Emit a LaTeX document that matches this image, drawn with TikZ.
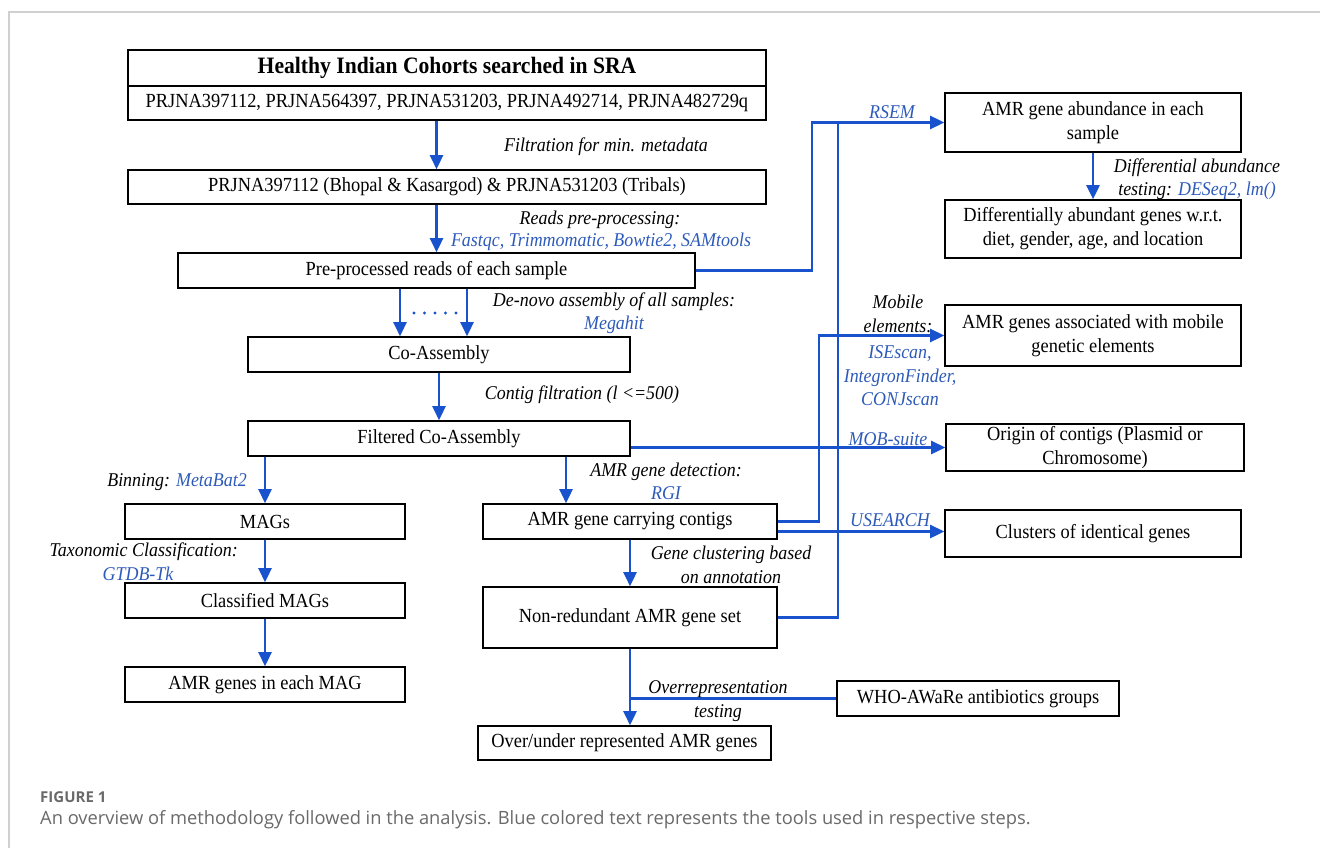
\documentclass[tikz,border=0pt]{standalone}
\usepackage{fontspec}
\setmainfont{Liberation Serif}[FakeStretch=0.92]
\newfontfamily\capfont{Open Sans}
\usetikzlibrary{arrows.meta}
\definecolor{lblue}{RGB}{25,82,205}
\definecolor{tblue}{RGB}{45,90,185}
\definecolor{capgray}{RGB}{105,105,105}
\definecolor{framegray}{RGB}{208,208,208}
\begin{document}
\begin{tikzpicture}[x=1pt,y=-1pt,
  box/.style={draw=black, line width=1.6pt, fill=white, inner sep=2pt, align=center, font=\fontsize{20}{24}\selectfont},
  arr/.style={draw=lblue, line width=2.6pt, -{Triangle[length=14pt,width=13pt]}},
  conn/.style={draw=lblue, line width=2.6pt},
  lab/.style={font=\fontsize{19.5}{23.5}\selectfont\itshape, align=center, inner sep=0pt},
  tool/.style={lab, text=tblue},
  capstyle/.style={anchor=base west, inner sep=0pt, text=capgray},
]
\useasboundingbox (0,0) rectangle (1320,848);
\draw[framegray, line width=1.2pt] (9,848) -- (9,12) -- (1320,12);

% left column boxes
\node[box, minimum width=638pt, minimum height=36pt, font=\fontsize{23.5}{26}\selectfont\bfseries] (top) at (447,68) {Healthy Indian Cohorts searched in SRA};
\node[box, minimum width=638pt, minimum height=34pt] (prj) at (447,103) {PRJNA397112, PRJNA564397, PRJNA531203, PRJNA492714, PRJNA482729q};
\node[box, minimum width=638pt, minimum height=34pt] (filt) at (447,187) {PRJNA397112 (Bhopal \& Kasargod) \& PRJNA531203 (Tribals)};
\node[box, minimum width=517pt, minimum height=35pt] (pre) at (436.5,270.5) {Pre-processed reads of each sample};
\node[box, minimum width=382pt, minimum height=35pt] (co) at (439,354.5) {Co-Assembly};
\node[box, minimum width=382pt, minimum height=35pt] (fco) at (439,438.5) {Filtered Co-Assembly};
\node[box, minimum width=280pt, minimum height=35pt] (mags) at (265,521.5) {MAGs};
\node[box, minimum width=280pt, minimum height=35pt] (cmags) at (265,600.5) {Classified MAGs};
\node[box, minimum width=280pt, minimum height=35pt] (amrmag) at (265,684.5) {AMR genes in each MAG};
\node[box, minimum width=294pt, minimum height=35pt] (carry) at (630,521.5) {AMR gene carrying contigs};
\node[box, minimum width=294pt, minimum height=61pt] (nr) at (630,617.5) {Non-redundant AMR gene set};
\node[box, minimum width=293pt, minimum height=34pt] (over) at (624.5,743) {Over/under represented AMR genes};
\node[box, minimum width=282pt, minimum height=35pt] (who) at (978,698.5) {WHO-AWaRe antibiotics groups};

% right column boxes
\node[box, minimum width=296pt, minimum height=59pt] (abund) at (1093,122.5) {AMR gene abundance in each\\sample};
\node[box, minimum width=296pt, minimum height=58pt] (diff) at (1093,229) {Differentially abundant genes w.r.t.\\diet, gender, age, and location};
\node[box, minimum width=296pt, minimum height=61pt] (mob) at (1093,335.5) {AMR genes associated with mobile\\genetic elements};
\node[box, minimum width=298pt, minimum height=47pt] (orig) at (1095,447.5) {Origin of contigs (Plasmid or\\Chromosome)};
\node[box, minimum width=296pt, minimum height=47pt] (clus) at (1093,533.5) {Clusters of identical genes};

% helper coordinates for vertical runs
\coordinate (vA) at (400,0);
\coordinate (vB) at (467,0);
\coordinate (vD) at (566,0);
\coordinate (v1) at (812,0);
\coordinate (v2) at (838,0);
\coordinate (v3) at (819,0);

% main vertical flow
\draw[arr] (prj.south -| pre.north) -- (filt.north -| pre.north);
\draw[arr] (filt.south -| pre.north) -- (pre.north);
\draw[arr] (pre.south -| vA) -- (co.north -| vA);
\draw[arr] (pre.south -| vB) -- (co.north -| vB);
\draw[lblue, line width=3.2pt, line cap=round, dash pattern=on 0pt off 10.5pt] (414,313) -- (458,313);
\draw[arr] (co.south) -- (fco.north);
\draw[arr] (fco.south -| mags.north) -- (mags.north);
\draw[arr] (fco.south -| vD) -- (carry.north -| vD);
\draw[arr] (mags.south) -- (cmags.north);
\draw[arr] (cmags.south) -- (amrmag.north);
\draw[arr] (carry.south) -- (nr.north);
\draw[arr] (nr.south) -- (nr.south |- over.north);
\draw[conn] (who.west) -- (who.west -| nr.south);
\draw[arr] (abund.south) -- (diff.north);

% right-going connectors
\draw[arr] (pre.east) -| (v1 |- abund.west) -- (abund.west);
\draw[conn] (nr.east) -| (v2 |- abund.west);
\draw[arr] (carry.east) -| (v3 |- mob.west) -- (mob.west);
\draw[arr] (fco.east |- orig.west) -- (orig.west);
\draw[arr] ([yshift=-10pt]carry.east) coordinate (cc) -- (cc -| clus.west);

% labels
\node[lab] (l1) at (606,147) {Filtration for min. metadata};
\node[lab] (l2) at (600,220) {Reads pre-processing:};
\node[tool] (t2) at (601,242) {Fastqc, Trimmomatic, Bowtie2, SAMtools};
\node[lab] (l3) at (614,302) {De-novo assembly of all samples:};
\node[tool] (t3) at (614,325) {Megahit};
\node[lab] (l4) at (582,395) {Contig filtration (l <=500)};
\node[lab, anchor=east] (l5) at (247,482) {Binning: \textcolor{tblue}{MetaBat2}};
\node[lab] (l6) at (666,472) {AMR gene detection:};
\node[tool] (t6) at (666,493) {RGI};
\node[lab, anchor=east] (l7) at (238,552) {Taxonomic Classification:};
\node[tool] (t7) at (138,574) {GTDB-Tk};
\node[lab] (l8) at (731,565) {Gene clustering based\\on annotation};
\node[lab] (l9) at (718,701) {Overrepresentation\\testing};
\node[tool] (t10) at (892,112) {RSEM};
\node[lab] (l11) at (1197,179) {Differential abundance\\testing: \textcolor{tblue}{DESeq2, lm()}};
\node[lab] (l12) at (898,314) {Mobile\\elements:};
\node[tool] (t12) at (900,376) {ISEscan,\\IntegronFinder,\\CONJscan};
\node[tool] (t13) at (888,439) {MOB-suite};
\node[tool] (t14) at (890,520) {USEARCH};

% caption
\node[capstyle, font=\capfont\bfseries\fontsize{15}{18}\selectfont] (fig) at (40,802) {FIGURE 1};
\node[capstyle, font=\capfont\fontsize{18.3}{22}\selectfont] (cap) at (40,824) {An overview of methodology followed in the analysis. Blue colored text represents the tools used in respective steps.};
\end{tikzpicture}
\end{document}
